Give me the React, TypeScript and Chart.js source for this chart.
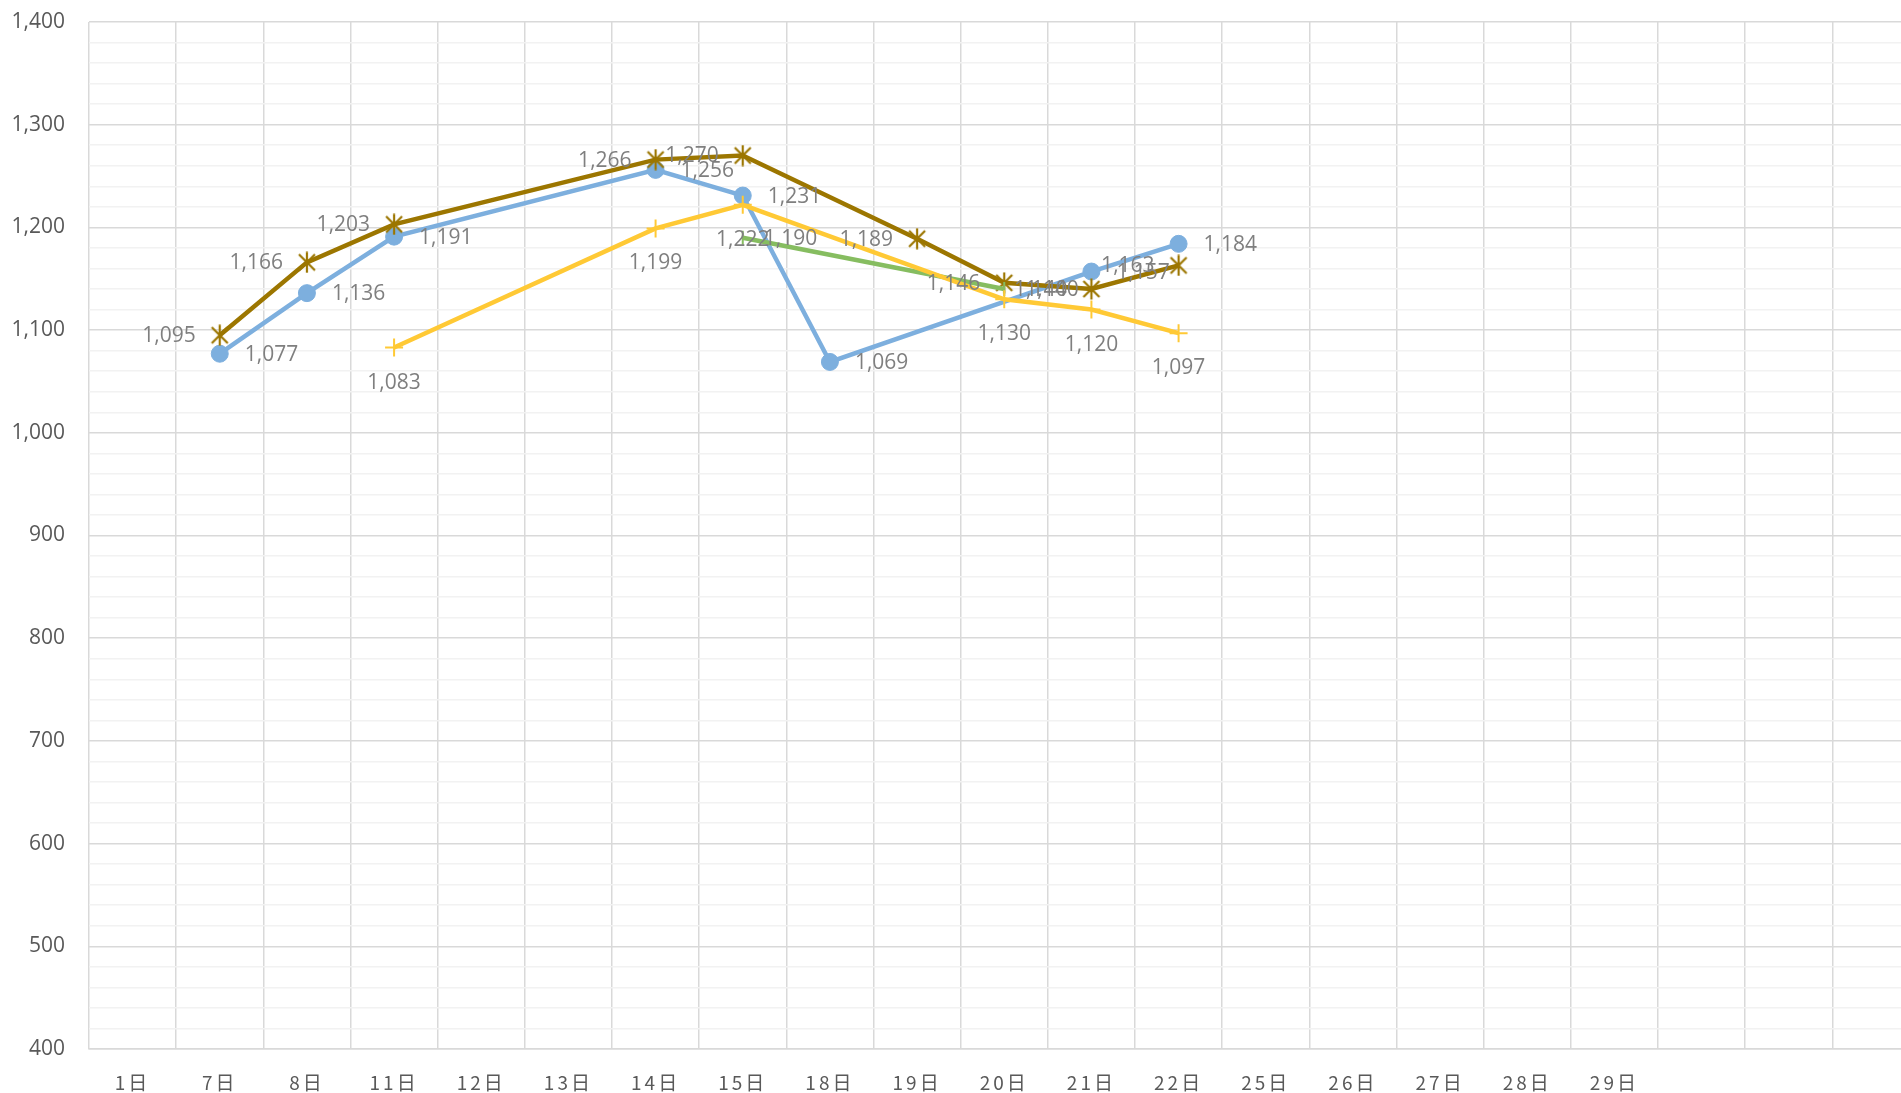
import React, { useEffect, useRef } from "react";
import { Chart, registerables } from "chart.js";

Chart.register(...registerables);

const categories = ["1日", "7日", "8日", "11日", "12日", "13日", "14日", "15日", "18日", "19日", "20日", "21日", "22日", "25日", "26日", "27日", "28日", "29日", "", "", ""];
const blueSeries = [null, 1077, 1136, 1191, null, null, 1256, 1231, 1069, null, null, 1157, 1184, null, null, null, null, null, null, null, null];
const goldSeries = [null, 1095, 1166, 1203, null, null, 1266, 1270, null, 1189, 1146, 1140, 1163, null, null, null, null, null, null, null, null];
const yellowSeries = [null, null, null, 1083, null, null, 1199, 1222, null, null, 1130, 1120, 1097, null, null, null, null, null, null, null, null];
const greenSeries = [null, null, null, null, null, null, null, 1190, null, null, 1140, null, null, null, null, null, null, null, null, null, null];
const yMin = 400;
const yMax = 1400;
const yStep = 20;

const BLUE = "#7dafde";
const GOLD = "#9c7600";
const YELLOW = "#ffc935";
const GREEN = "#86bd60";

function makeStar(color: string) {
  const c = document.createElement("canvas");
  c.width = 22;
  c.height = 22;
  const g = c.getContext("2d")!;
  g.strokeStyle = color;
  g.lineWidth = 2.2;
  g.beginPath();
  g.moveTo(3, 3);
  g.lineTo(19, 19);
  g.moveTo(19, 3);
  g.lineTo(3, 19);
  g.moveTo(11, 0.5);
  g.lineTo(11, 21.5);
  g.stroke();
  return c;
}

const labelPos = ["right", "left", "below", "right"];

const dataLabelPlugin = {
  id: "dataLabels",
  beforeDraw(chart: any) {
    (chart.ctx as any).letterSpacing = "0px";
  },
  afterDatasetsDraw(chart: any) {
    const ctx = chart.ctx;
    ctx.save();
    ctx.font = "21px 'Open Sans'";
    ctx.fillStyle = "#7f7f7f";
    ctx.textBaseline = "middle";
    chart.data.datasets.forEach((ds: any, di: number) => {
      const meta = chart.getDatasetMeta(di);
      const pos = labelPos[di];
      ds.data.forEach((v: any, i: number) => {
        if (v === null || v === undefined) return;
        const el = meta.data[i];
        const txt = Number(v).toLocaleString("en-US");
        if (pos === "right") {
          ctx.textAlign = "left";
          ctx.fillText(txt, el.x + (di === 3 ? 21 : 25), el.y + 1);
        } else if (pos === "left") {
          ctx.textAlign = "right";
          ctx.fillText(txt, el.x - 24, el.y + 1);
        } else {
          ctx.textAlign = "center";
          ctx.fillText(txt, el.x, el.y + 35);
        }
      });
    });
    ctx.restore();
    (ctx as any).letterSpacing = "3px";
  },
  afterDraw(chart: any) {
    (chart.ctx as any).letterSpacing = "0px";
  },
};

export default function App() {
  const ref = useRef<HTMLCanvasElement | null>(null);
  useEffect(() => {
    if (!ref.current) return;
    const star = makeStar(GOLD);
    const chart = new Chart(ref.current, {
      type: "line",
      data: {
        labels: categories,
        datasets: [
          {
            label: "A",
            data: blueSeries,
            borderColor: BLUE,
            backgroundColor: BLUE,
            borderWidth: 4.5,
            pointStyle: "circle",
            pointRadius: 8.5,
            pointBorderWidth: 1,
            pointBackgroundColor: BLUE,
            pointBorderColor: BLUE,
            spanGaps: true,
            tension: 0,
            order: 4,
          },
          {
            label: "B",
            data: goldSeries,
            borderColor: GOLD,
            backgroundColor: GOLD,
            borderWidth: 4.5,
            pointStyle: star as any,
            pointRadius: 11,
            spanGaps: true,
            tension: 0,
            order: 3,
          },
          {
            label: "C",
            data: yellowSeries,
            borderColor: YELLOW,
            backgroundColor: YELLOW,
            borderWidth: 4.5,
            pointStyle: "cross",
            pointRadius: 9,
            pointBorderWidth: 2,
            pointBorderColor: YELLOW,
            spanGaps: true,
            tension: 0,
            order: 1,
          },
          {
            label: "D",
            data: greenSeries,
            borderColor: GREEN,
            backgroundColor: GREEN,
            borderWidth: 4.5,
            pointStyle: "line",
            pointRotation: 90,
            pointRadius: 7,
            pointBorderWidth: 2,
            pointBorderColor: GREEN,
            spanGaps: true,
            tension: 0,
            order: 2,
          },
        ],
      },
      options: {
        responsive: false,
        animation: false,
        layout: { padding: { top: 22, right: 0, bottom: 0, left: 0 } },
        plugins: {
          legend: { display: false },
          tooltip: { enabled: false },
          title: { display: false },
        },
        scales: {
          x: {
            type: "category",
            offset: true,
            grid: { offset: true, color: "#d9d9d9", lineWidth: 1.5, drawTicks: false },
            border: { color: "#d9d9d9", width: 1.5 },
            ticks: {
              color: "#595959",
              font: { family: "'Noto Sans CJK SC'", size: 19 },
              padding: 22,
              maxRotation: 0,
              autoSkip: false,
              z: 1,
            },
            afterFit(scale: any) {
              scale.height = 44;
              scale.paddingLeft = 0;
              scale.paddingRight = 0;
            },
          },
          y: {
            min: yMin,
            max: yMax,
            grid: {
              color: (c: any) => (c.tick && c.tick.value % 100 === 0 ? "#d9d9d9" : "#f2f2f2"),
              lineWidth: 1.5,
              drawTicks: false,
            },
            border: { display: false },
            ticks: {
              stepSize: yStep,
              color: "#595959",
              font: { family: "'Open Sans'", size: 21 },
              padding: 24,
              autoSkip: false,
              callback: (v: any) => (Number(v) % 100 === 0 ? Number(v).toLocaleString("en-US") : ""),
            },
            afterFit(scale: any) {
              scale.width = 89;
              scale.paddingTop = 0;
              scale.paddingBottom = 0;
            },
          },
        },
      },
      plugins: [dataLabelPlugin],
    });
    return () => chart.destroy();
  }, []);
  return (
    <div style={{ position: "absolute", left: 0, top: 0, width: 1901, height: 1093, overflow: "hidden", background: "#fff" }}>
      <canvas ref={ref} width={1935} height={1093} style={{ width: 1935, height: 1093, display: "block" }} />
    </div>
  );
}
